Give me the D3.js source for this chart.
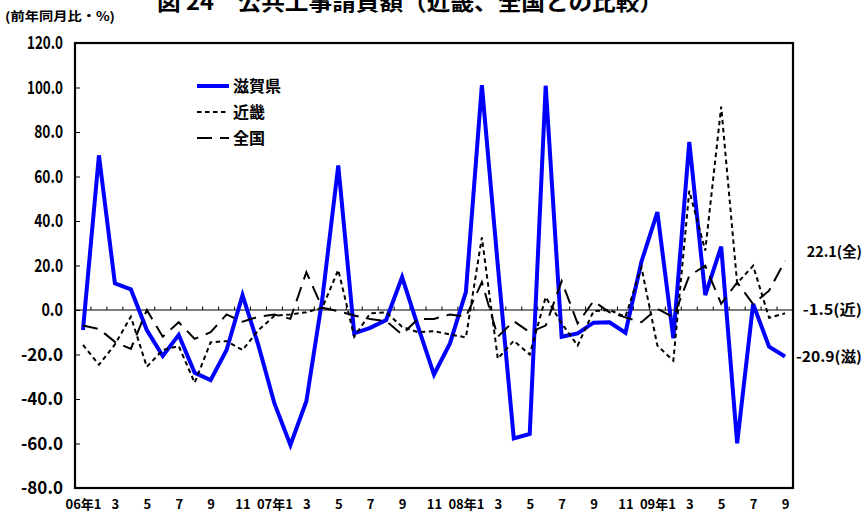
<!DOCTYPE html>
<html>
<head>
<meta charset="utf-8">
<script src="https://cdn.jsdelivr.net/npm/d3@7"></script>
<style>
  html, body { margin: 0; padding: 0; background: #fff; }
  svg { display: block; }
  text { font-family: "Noto Sans CJK JP", "Noto Sans", sans-serif; font-weight: 700; fill: #000; }
</style>
</head>
<body>
<svg id="chart" width="864" height="513"></svg>
<script>
// Months Jan 2006 – Sep 2009
const months = [
  "06年1","2","3","4","5","6","7","8","9","10","11","12",
  "07年1","2","3","4","5","6","7","8","9","10","11","12",
  "08年1","2","3","4","5","6","7","8","9","10","11","12",
  "09年1","2","3","4","5","6","7","8","9"
];

// Year-on-year change of public works contracts (%)
const shiga = [
  -9.0, 69.5, 12.0, 9.3, -9.0, -20.7, -11.2, -28.2, -31.5, -18.0, 6.7, -16.0,
  -42.0, -60.7, -41.0, 5.0, 65.0, -10.5, -8.0, -4.5, 14.8, -7.5, -29.0, -15.0,
  8.2, 101.0, 20.0, -57.7, -55.7, 100.8, -12.0, -10.5, -5.7, -5.5, -10.2, 21.7,
  44.0, -12.7, 75.5, 6.7, 28.5, -59.9, 2.7, -16.5, -20.9
];
const kinki = [
  -15.7, -24.6, -15.5, -3.0, -25.5, -18.0, -16.2, -32.7, -14.5, -14.0, -18.0, -9.0,
  -2.6, -2.0, -1.0, 1.0, 18.0, -12.0, -1.5, -1.0, -7.5, -10.0, -9.5, -11.0,
  -12.3, 32.6, -21.9, -13.8, -20.0, 5.8, -6.0, -16.0, -0.5, 0.0, -3.0, 19.2,
  -16.0, -22.8, 53.6, 26.7, 91.4, 12.0, 19.9, -3.5, -1.5
];
const zenkoku = [
  -7.0, -8.5, -14.3, -17.5, 0.0, -12.0, -5.5, -13.0, -10.0, -2.0, -5.3, -3.0,
  -2.0, -4.0, 17.0, 1.0, -0.5, -2.5, -4.0, -5.0, -11.0, -4.0, -4.0, -2.0,
  -3.0, 12.5, -12.0, -5.0, -10.0, -7.0, 13.0, -6.0, 4.0, -1.0, -3.3, -5.5,
  0.6, -3.3, 15.4, 19.9, 2.8, 12.4, 2.7, 8.7, 22.1
];

const seriesNames = ["滋賀県", "近畿", "全国"];
const endTags = ["滋", "近", "全"];
const yTicks = [-80, -60, -40, -20, 0, 20, 40, 60, 80, 100, 120];

const titleText = "図 24　公共工事請負額（近畿、全国との比較）";
const unitText = "(前年同月比・%)";

const svg = d3.select("#chart");
const plot = { left: 75, right: 793, top: 43, bottom: 488 };

const x = d3.scalePoint()
  .domain(d3.range(months.length))
  .range([plot.left, plot.right])
  .padding(0.5);
const step = x.step();

const y = d3.scaleLinear()
  .domain([-80, 120])
  .range([plot.bottom, plot.top]);

// Title and unit
svg.append("text")
  .attr("x", 157).attr("y", 10)
  .attr("font-size", 22)
  .attr("textLength", 506).attr("lengthAdjust", "spacingAndGlyphs")
  .text(titleText);

svg.append("text")
  .attr("x", 5).attr("y", 21)
  .attr("font-size", 12.5)
  .attr("textLength", 110).attr("lengthAdjust", "spacingAndGlyphs")
  .text(unitText);

// Y axis with inward ticks
const yAxis = svg.append("g")
  .attr("transform", `translate(${plot.left},0)`)
  .call(d3.axisLeft(y).tickValues(yTicks).tickSize(-5).tickPadding(12)
    .tickFormat(d => d.toFixed(1)));
yAxis.select(".domain").remove();
yAxis.selectAll(".tick line").attr("stroke", "#000").attr("stroke-width", 1);
yAxis.selectAll(".tick text")
  .attr("font-size", 18)
  .attr("font-family", "\"Noto Sans CJK JP\", sans-serif")
  .attr("font-weight", 700)
  .attr("textLength", d => d.toFixed(1).length * 7.2 + (d < 0 ? 6 : 0))
  .attr("lengthAdjust", "spacingAndGlyphs");

// X axis labels, every other month
const xAxis = svg.append("g")
  .attr("transform", `translate(0,${plot.bottom})`)
  .call(d3.axisBottom(x).tickSize(0).tickPadding(12)
    .tickValues(d3.range(0, months.length, 2))
    .tickFormat(i => months[i]));
xAxis.select(".domain").remove();
xAxis.selectAll(".tick text")
  .attr("font-size", 13)
  .attr("font-family", "\"Noto Sans CJK JP\", sans-serif")
  .attr("font-weight", 700);

// Zero line with month ticks
const y0 = y(0);
svg.append("line")
  .attr("x1", plot.left).attr("x2", plot.right)
  .attr("y1", y0).attr("y2", y0)
  .attr("stroke", "#000").attr("stroke-width", 1.2);
svg.append("g").selectAll("line")
  .data(d3.range(1, months.length))
  .join("line")
  .attr("x1", k => plot.left + k * step).attr("x2", k => plot.left + k * step)
  .attr("y1", y0).attr("y2", y0 - 3.5)
  .attr("stroke", "#000").attr("stroke-width", 1);

// Series lines
const line = d3.line().x((d, i) => x(i)).y(d => y(d));
const styles = [
  { data: shiga,   stroke: "#0000FF", width: 4,   dash: null },
  { data: kinki,   stroke: "#000",    width: 2,   dash: "4.5,3.5" },
  { data: zenkoku, stroke: "#000",    width: 2,   dash: "15,8" }
];
styles.forEach(s => {
  svg.append("path")
    .datum(s.data)
    .attr("d", line)
    .attr("fill", "none")
    .attr("stroke", s.stroke)
    .attr("stroke-width", s.width)
    .attr("stroke-linejoin", "miter")
    .attr("stroke-dasharray", s.dash);
});

// Plot frame
svg.append("rect")
  .attr("x", plot.left).attr("y", plot.top)
  .attr("width", plot.right - plot.left).attr("height", plot.bottom - plot.top)
  .attr("fill", "none").attr("stroke", "#000").attr("stroke-width", 2.2);

// Legend
const legend = svg.append("g");
styles.forEach((s, i) => {
  const ly = 86 + i * 26;
  legend.append("line")
    .attr("x1", 197).attr("x2", 229).attr("y1", ly).attr("y2", ly)
    .attr("stroke", s.stroke).attr("stroke-width", s.width)
    .attr("stroke-dasharray", s.dash);
  legend.append("text")
    .attr("x", 233).attr("y", ly + 6)
    .attr("font-size", 16)
    .text(seriesNames[i]);
});

// Latest values at the right edge
const last = months.length - 1;
const endLabels = [
  { v: shiga[last],   tag: endTags[0], dy: 5 },
  { v: kinki[last],   tag: endTags[1], dy: 2 },
  { v: zenkoku[last], tag: endTags[2], dy: -4 }
];
endLabels.forEach(e => {
  const s = e.v.toFixed(1);
  svg.append("text")
    .attr("x", 862).attr("y", y(e.v) + e.dy)
    .attr("text-anchor", "end")
    .attr("font-size", 14.5)
    .attr("textLength", s.length * 6.8 + (e.v < 0 ? 4 : 0) + 28)
    .attr("lengthAdjust", "spacingAndGlyphs")
    .text(`${s}(${e.tag})`);
});
</script>
</body>
</html>
